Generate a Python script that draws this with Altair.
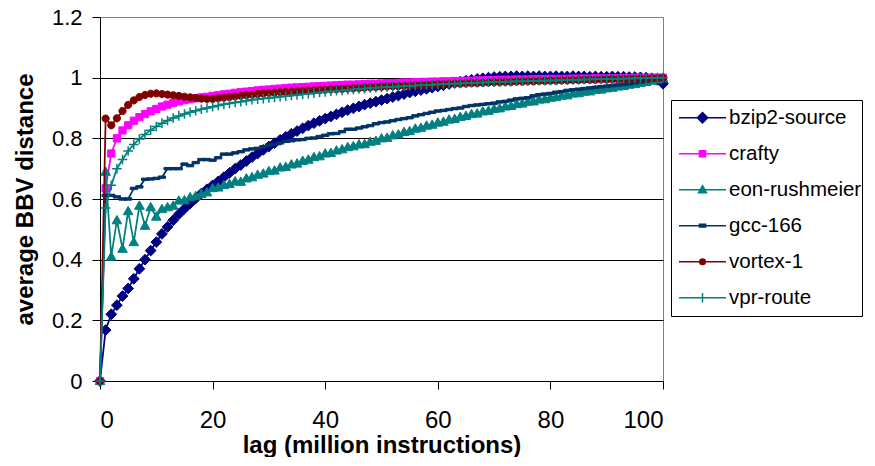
import altair as alt
import pandas as pd

lags = list(range(101))
names = ["bzip2-source", "crafty", "eon-rushmeier", "gcc-166", "vortex-1", "vpr-route"]
colors = ["#000080", "#FF00FF", "#008080", "#003366", "#800000", "#008080"]
x_ticks = [0, 20, 40, 60, 80, 100]
y_ticks = [0, 0.2, 0.4, 0.6, 0.8, 1.0, 1.2]

bzip2 = [0, 0.168, 0.22, 0.25, 0.28, 0.305, 0.337, 0.37, 0.40, 0.43,
         0.458, 0.485, 0.508, 0.53, 0.55, 0.568, 0.585, 0.602, 0.618, 0.632,
         0.645, 0.658, 0.672, 0.686, 0.70, 0.712, 0.725, 0.738, 0.75, 0.762,
         0.773, 0.784, 0.795, 0.805, 0.815, 0.824, 0.833, 0.842, 0.85, 0.858,
         0.865, 0.872, 0.879, 0.886, 0.893, 0.899, 0.905, 0.911, 0.916, 0.921,
         0.926, 0.931, 0.936, 0.941, 0.946, 0.951, 0.955, 0.959, 0.963, 0.967,
         0.971, 0.975, 0.979, 0.983, 0.987, 0.99, 0.993, 0.996, 0.998, 1.0,
         1.002, 1.003, 1.004, 1.004, 1.005, 1.004, 1.005, 1.004, 1.005, 1.004,
         1.004, 1.005, 1.004, 1.004, 1.005, 1.004, 1.004, 1.003, 1.004, 1.003,
         1.003, 1.004, 1.003, 1.003, 1.002, 1.002, 1.001, 1.0, 0.998, 0.993,
         0.98]
crafty = [0, 0.635, 0.75, 0.80, 0.826, 0.843, 0.858, 0.87, 0.88, 0.889,
          0.897, 0.905, 0.911, 0.917, 0.922, 0.926, 0.929, 0.932, 0.935, 0.937,
          0.94, 0.942, 0.945, 0.947, 0.95, 0.952, 0.954, 0.956, 0.958, 0.96,
          0.961, 0.963, 0.964, 0.966, 0.967, 0.968, 0.969, 0.97, 0.971, 0.972,
          0.973, 0.974, 0.975, 0.976, 0.977, 0.977, 0.978, 0.979, 0.98, 0.98,
          0.981, 0.982, 0.982, 0.983, 0.984, 0.984, 0.985, 0.986, 0.986, 0.987,
          0.987, 0.988, 0.988, 0.989, 0.989, 0.99, 0.99, 0.991, 0.991, 0.992,
          0.992, 0.993, 0.993, 0.993, 0.994, 0.994, 0.994, 0.995, 0.995, 0.995,
          0.996, 0.996, 0.996, 0.996, 0.997, 0.997, 0.997, 0.997, 0.998, 0.998,
          0.998, 0.998, 0.998, 0.999, 0.999, 0.999, 0.999, 0.999, 1.0, 1.0,
          1.0]
eon = [0, 0.69, 0.41, 0.53, 0.436, 0.56, 0.458, 0.578, 0.512, 0.573,
       0.542, 0.567, 0.573, 0.578, 0.595, 0.596, 0.606, 0.61, 0.617, 0.622,
       0.636, 0.638, 0.646, 0.65, 0.658, 0.657, 0.668, 0.672, 0.68, 0.684,
       0.692, 0.694, 0.704, 0.706, 0.714, 0.717, 0.726, 0.73, 0.738, 0.741,
       0.75, 0.752, 0.76, 0.764, 0.771, 0.774, 0.78, 0.781, 0.789, 0.792,
       0.80, 0.802, 0.81, 0.813, 0.821, 0.824, 0.832, 0.835, 0.842, 0.845,
       0.852, 0.855, 0.862, 0.864, 0.871, 0.874, 0.88, 0.882, 0.889, 0.891,
       0.897, 0.899, 0.905, 0.907, 0.913, 0.915, 0.921, 0.922, 0.928, 0.929,
       0.934, 0.936, 0.941, 0.942, 0.948, 0.949, 0.954, 0.955, 0.96, 0.961,
       0.965, 0.967, 0.971, 0.973, 0.977, 0.979, 0.983, 0.986, 0.99, 0.994,
       0.998]
gcc = [0, 0.612, 0.612, 0.607, 0.60, 0.60, 0.635, 0.64, 0.665, 0.666,
       0.668, 0.672, 0.70, 0.70, 0.70, 0.715, 0.71, 0.72, 0.73, 0.73,
       0.728, 0.736, 0.748, 0.748, 0.752, 0.756, 0.762, 0.765, 0.767, 0.772,
       0.778, 0.78, 0.785, 0.79, 0.792, 0.795, 0.796, 0.80, 0.801, 0.806,
       0.81, 0.815, 0.816, 0.822, 0.83, 0.83, 0.834, 0.838, 0.842, 0.848,
       0.852, 0.854, 0.858, 0.862, 0.865, 0.868, 0.874, 0.878, 0.882, 0.886,
       0.89, 0.892, 0.895, 0.898, 0.90, 0.905, 0.908, 0.91, 0.912, 0.914,
       0.916, 0.92, 0.922, 0.926, 0.93, 0.932, 0.934, 0.94, 0.944, 0.946,
       0.948, 0.952, 0.954, 0.958, 0.96, 0.962, 0.964, 0.966, 0.968, 0.97,
       0.972, 0.974, 0.976, 0.978, 0.98, 0.983, 0.986, 0.989, 0.992, 0.995,
       0.998]
vortex = [0, 0.865, 0.843, 0.866, 0.89, 0.91, 0.925, 0.936, 0.943, 0.947,
          0.948, 0.946, 0.944, 0.942, 0.94, 0.937, 0.935, 0.933, 0.931, 0.93,
          0.93, 0.932, 0.934, 0.936, 0.938, 0.94, 0.942, 0.944, 0.946, 0.948,
          0.95, 0.951, 0.952, 0.953, 0.954, 0.955, 0.956, 0.957, 0.958, 0.959,
          0.96, 0.961, 0.962, 0.963, 0.964, 0.965, 0.966, 0.967, 0.968, 0.969,
          0.97, 0.971, 0.972, 0.972, 0.973, 0.974, 0.975, 0.975, 0.976, 0.977,
          0.978, 0.978, 0.979, 0.98, 0.98, 0.981, 0.982, 0.982, 0.983, 0.984,
          0.985, 0.985, 0.986, 0.986, 0.987, 0.987, 0.988, 0.988, 0.989, 0.989,
          0.99, 0.99, 0.991, 0.991, 0.992, 0.992, 0.993, 0.993, 0.993, 0.994,
          0.994, 0.995, 0.995, 0.995, 0.996, 0.996, 0.997, 0.997, 0.998, 0.998,
          0.999]
vpr = [0, 0.57, 0.645, 0.70, 0.73, 0.758, 0.78, 0.798, 0.813, 0.827,
       0.839, 0.85, 0.859, 0.867, 0.874, 0.88, 0.886, 0.891, 0.896, 0.90,
       0.904, 0.908, 0.912, 0.915, 0.918, 0.921, 0.924, 0.927, 0.929, 0.931,
       0.933, 0.935, 0.937, 0.939, 0.941, 0.943, 0.945, 0.947, 0.949, 0.951,
       0.953, 0.955, 0.957, 0.958, 0.96, 0.961, 0.963, 0.964, 0.966, 0.967,
       0.968, 0.969, 0.97, 0.971, 0.972, 0.973, 0.974, 0.975, 0.976, 0.977,
       0.978, 0.979, 0.98, 0.98, 0.981, 0.982, 0.983, 0.983, 0.984, 0.985,
       0.985, 0.986, 0.986, 0.987, 0.988, 0.988, 0.989, 0.989, 0.99, 0.99,
       0.991, 0.991, 0.992, 0.992, 0.993, 0.993, 0.994, 0.994, 0.995, 0.995,
       0.996, 0.996, 0.996, 0.997, 0.997, 0.998, 0.998, 0.999, 0.999, 1.0,
       1.0]

series_values = [bzip2, crafty, eon, gcc, vortex, vpr]

# marker shapes in the plot (unit path scaled by sqrt(size)/2)
plot_shapes = [
    "M0,-0.9L0.9,0L0,0.9L-0.9,0Z",
    "M-0.6,-0.6L0.6,-0.6L0.6,0.6L-0.6,0.6Z",
    "M0,-0.8L0.8,0.6L-0.8,0.6Z",
    "M-0.6,-0.2L0.6,-0.2L0.6,0.2L-0.6,0.2Z",
    "M0.6,0A0.6,0.6 0 1,1 -0.6,0A0.6,0.6 0 1,1 0.6,0Z",
    "M-0.8,0L0.8,0M0,-0.8L0,0.8",
]
plot_stroke_widths = [1, 1, 1, 1, 1, 1.5]

# legend symbols: line segment + marker
legend_shapes = [
    "M-1,0L1,0M0,-0.22L0.22,0L0,0.22L-0.22,0Z",
    "M-1,0L1,0M-0.13,-0.13L0.13,-0.13L0.13,0.13L-0.13,0.13Z",
    "M-1,0L1,0M0,-0.17L0.17,0.13L-0.17,0.13Z",
    "M-1,0L1,0M-0.13,-0.06L0.13,-0.06L0.13,0.06L-0.13,0.06Z",
    "M-1,0L1,0M0.12,0A0.12,0.12 0 1,1 -0.12,0A0.12,0.12 0 1,1 0.12,0Z",
    "M-1,0L1,0M0,-0.2L0,0.2",
]

rows = []
for name, vals in zip(names, series_values):
    for lag, v in zip(lags, vals):
        rows.append({"series": name, "lag": lag, "dist": v})
df = pd.DataFrame(rows)

FONT = "Liberation Sans"
PLOT_H = 364

x_enc = alt.X(
    "lag:Q",
    scale=alt.Scale(domain=[0, 100], nice=False, zero=False),
    axis=alt.Axis(
        values=x_ticks, title="lag (million instructions)", grid=False,
        tickSize=8, tickColor="black", domainColor="black",
        labelFont=FONT, labelFontSize=24, labelColor="black", labelPadding=19,
        titleFont=FONT, titleFontSize=24, titleFontWeight="bold", titleColor="black",
        titleY=71, titleBaseline="alphabetic",
    ),
)
y_enc = alt.Y(
    "dist:Q",
    scale=alt.Scale(domain=[0, 1.2], nice=False),
    axis=alt.Axis(
        values=y_ticks, format="~g", title="average BBV distance",
        grid=True, gridColor={"condition": {"test": "datum.value >= 1.1", "value": "#808080"}, "value": "#000000"},
        gridWidth=1,
        tickSize=8, tickColor="black", domainColor="black",
        labelFont=FONT, labelFontSize=22, labelColor="black", labelPadding=10,
        titleFont=FONT, titleFontSize=24, titleFontWeight="bold", titleColor="black",
        titleX=-68, titleY=PLOT_H / 2, titleAngle=270, titleBaseline="alphabetic", titleAlign="center",
    ),
)

base = alt.Chart(df)
layers = []
for i, name in enumerate(names):
    sub = base.transform_filter(alt.datum.series == name)
    layers.append(
        sub.mark_line(strokeWidth=1.75, stroke=colors[i]).encode(x=x_enc, y=y_enc)
    )
    layers.append(
        sub.mark_point(filled=True, shape=plot_shapes[i], size=144, opacity=1,
                       fill=colors[i], stroke=colors[i],
                       strokeWidth=plot_stroke_widths[i]).encode(x=x_enc, y=y_enc)
    )

legend_def = alt.Legend(
    title=None, orient="none", legendX=571, legendY=83,
    strokeColor="black", fillColor="white", padding=0,
    labelFont=FONT, labelFontSize=20.5, labelColor="black", labelOffset=2,
    labelLimit=300,
    rowPadding=0, clipHeight=35.4, symbolOffset=7,
    symbolSize=2209, symbolStrokeWidth=1.5, symbolOpacity=1,
)
legend_layer = base.transform_filter("datum.lag < 0").mark_point(
    filled=True, size=2209, opacity=1, strokeWidth=1.5
).encode(
    x=x_enc, y=y_enc,
    shape=alt.Shape("series:N", scale=alt.Scale(domain=names, range=legend_shapes), legend=legend_def),
    stroke=alt.Stroke("series:N", scale=alt.Scale(domain=names, range=colors), legend=legend_def),
    fill=alt.Fill("series:N", scale=alt.Scale(domain=names, range=colors), legend=legend_def),
)
layers.append(legend_layer)

chart = alt.layer(*layers).properties(
    width=563, height=PLOT_H,
    autosize=alt.AutoSizeParams(type="none"),
    padding={"left": 92, "top": 9, "right": 204, "bottom": 76},
).configure_view(stroke="#808080", strokeWidth=1)

chart.save("out.html", embed_options={"renderer": "svg", "actions": False})
